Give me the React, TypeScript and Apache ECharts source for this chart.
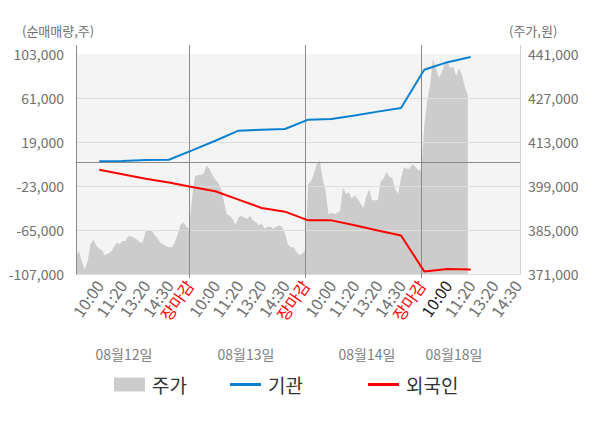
import React, { useEffect, useRef } from 'react';
import * as echarts from 'echarts';

// ---- data ----
const days = ['08/12', '08/13', '08/14', '08/18'];
const dayLabels = ['08월12일', '08월13일', '08월14일', '08월18일'];
const slotsPerDay = [40, 40, 40, 34];
const timeLabels: Record<number, string> = { 8: '10:00', 16: '11:20', 24: '13:20', 32: '14:30', 39: '장마감' };

const priceDay1 = [
  376500, 378500, 375000, 372500, 375000, 380500, 382000, 380000, 379000, 378500,
  377000, 377500, 378000, 379500, 381000, 380500, 381500, 381500, 383000, 383000,
  382500, 382000, 381000, 381000, 384500, 385000, 385000, 383500, 382500, 381000,
  380500, 380000, 379500, 379500, 381000, 383500, 386500, 387500, 386000, 385500,
];
const priceDay2 = [
  395500, 402000, 402500, 402500, 403000, 405500, 404500, 402500, 401000, 400000,
  398000, 394000, 390000, 389500, 388500, 386500, 389000, 389500, 389000, 388500,
  389500, 388000, 387500, 386500, 387000, 385500, 386000, 386000, 385500, 386000,
  386500, 386000, 384000, 380500, 379500, 379500, 378000, 377000, 377500, 378500,
];
const priceDay3 = [
  399500, 400500, 403000, 406000, 407000, 401500, 397500, 390000, 390500, 390000,
  390500, 391000, 398500, 396500, 397000, 395000, 396000, 395000, 393500, 392000,
  395500, 398000, 394500, 394500, 394500, 400500, 401500, 403500, 402000, 401500,
  398000, 396500, 401500, 405000, 404500, 404500, 406000, 405000, 404000, 404000,
];
const priceDay4 = [
  418000, 426000, 431000, 439500, 436500, 433500, 435000, 438000, 438500, 436500,
  437000, 434000, 436500, 434500, 430500, 428000,
];

// investor net buying, sampled at these time slots (global slot index)
const flowIndex = [8, 16, 24, 32, 40, 48, 56, 64, 72, 80, 88, 96, 104, 112, 120, 128, 136];
const institution = [700, 950, 1800, 2100, 11000, 20200, 29800, 30700, 31400, 40300, 40900, 44400, 48000, 51400, 88000, 95200, 100100];
const foreign = [-7450, -11700, -16000, -19600, -24000, -28000, -36000, -44000, -47500, -55800, -55800, -60500, -65500, -70200, -104500, -102200, -102600];

const leftAxis = { min: -107000, max: 103000, interval: 42000 };
const rightAxis = { min: 371000, max: 441000, interval: 14000 };

const FONT = '"Noto Sans CJK KR", "Noto Sans", sans-serif';

function buildOption() {
  const cats: string[] = [];
  days.forEach((d, i) => {
    for (let s = 0; s < slotsPerDay[i]; s++) cats.push(`${d} ${s}`);
  });
  const pad = slotsPerDay[3] - priceDay4.length;
  const price: (number | null)[] = [...priceDay1, ...priceDay2, ...priceDay3, ...priceDay4, ...Array(pad).fill(null)];
  const inst: (number | null)[] = cats.map(() => null);
  const forn: (number | null)[] = cats.map(() => null);
  flowIndex.forEach((ix, k) => {
    inst[ix] = institution[k];
    forn[ix] = foreign[k];
  });
  const separators: string[] = [];
  let acc = 0;
  for (let i = 0; i < days.length - 1; i++) {
    acc += slotsPerDay[i];
    separators.push(cats[acc - 1]);
  }
  const slotOf = (v: string) => Number(v.split(' ')[1]);
  const lastDay = days[days.length - 1];

  const dateCenters = [124, 246, 367, 454];
  const lineIcon = 'path://M0,0H31V3H0Z';
  const legendBase = {
    top: 375,
    padding: 0,
    itemWidth: 31,
    itemHeight: 14,
    itemGap: 0,
    selectedMode: false,
    textStyle: { fontSize: 19, color: '#333', fontFamily: FONT, padding: [0, 0, 0, 2] },
  };

  return {
    animation: false,
    textStyle: { fontFamily: FONT },
    grid: [
      { left: 76, right: 80, top: 54, bottom: 154, show: true, backgroundColor: '#f4f4f4', borderWidth: 0 },
      { left: 76, right: 80, top: 45, bottom: 150, show: false },
    ],
    legend: [
      { ...legendBase, left: 114, data: [{ name: '주가', icon: 'rect' }] },
      { ...legendBase, left: 230, data: [{ name: '기관', icon: lineIcon }] },
      { ...legendBase, left: 368, data: [{ name: '외국인', icon: lineIcon }] },
    ],
    xAxis: [
      {
        type: 'category',
        gridIndex: 0,
        data: cats,
        boundaryGap: false,
        z: 3,
        axisLine: { show: true, lineStyle: { color: '#999', width: 1 } },
        axisTick: { show: false },
        splitLine: { show: false },
        axisLabel: {
          interval: (_i: number, v: string) => timeLabels[slotOf(v)] !== undefined,
          formatter: (v: string) => {
            const s = slotOf(v);
            const t = timeLabels[s];
            if (!t) return '';
            if (s === 39) return `{r|${t}}`;
            if (v.startsWith(lastDay) && s === 8) return `{k|${t}}`;
            return t;
          },
          rotate: 55,
          margin: 8,
          fontSize: 16,
          color: '#707070',
          fontFamily: FONT,
          rich: {
            r: { color: '#ff0000', fontSize: 16, fontFamily: FONT },
            k: { color: '#222222', fontSize: 16, fontFamily: FONT },
          },
        },
      },
      { type: 'category', gridIndex: 1, data: cats, boundaryGap: false, show: false },
    ],
    yAxis: [
      {
        type: 'value',
        gridIndex: 0,
        position: 'left',
        ...leftAxis,
        z: 3,
        axisLine: { show: false },
        axisTick: { show: false },
        axisLabel: { color: '#707070', fontSize: 14, margin: 12, fontFamily: FONT, formatter: (v: number) => v.toLocaleString('en-US') },
        splitLine: { show: true, showMaxLine: false, lineStyle: { color: '#dddddd', width: 1 } },
      },
      {
        type: 'value',
        gridIndex: 0,
        position: 'right',
        ...rightAxis,
        z: 3,
        axisLine: { show: false },
        axisTick: { show: false },
        axisLabel: { color: '#707070', fontSize: 14, margin: 8, fontFamily: FONT, formatter: (v: number) => v.toLocaleString('en-US') },
        splitLine: { show: false },
      },
      { type: 'value', gridIndex: 1, min: 0, max: 1, show: false },
    ],
    series: [
      {
        name: '주가',
        type: 'line',
        xAxisIndex: 0,
        yAxisIndex: 1,
        data: price,
        symbol: 'none',
        showSymbol: false,
        itemStyle: { color: '#cccccc' },
        lineStyle: { width: 0, color: '#cccccc' },
        areaStyle: { color: '#cccccc', opacity: 1 },
        z: 2,
        silent: true,
      },
      {
        name: '기관',
        type: 'line',
        xAxisIndex: 0,
        yAxisIndex: 0,
        data: inst,
        connectNulls: true,
        symbol: 'none',
        showSymbol: false,
        itemStyle: { color: '#0a80d0' },
        lineStyle: { width: 2, color: '#0a80d0' },
        z: 5,
        silent: true,
        markLine: {
          silent: true,
          symbol: ['none', 'none'],
          label: { show: false },
          lineStyle: { color: '#8a8a8a', width: 1, type: 'solid' },
          emphasis: { disabled: true },
          data: [{ yAxis: 0 }],
        },
      },
      {
        name: '외국인',
        type: 'line',
        xAxisIndex: 0,
        yAxisIndex: 0,
        data: forn,
        connectNulls: true,
        symbol: 'none',
        showSymbol: false,
        itemStyle: { color: '#ff0000' },
        lineStyle: { width: 2, color: '#ff0000' },
        z: 5,
        silent: true,
      },
      {
        name: 'frame',
        type: 'line',
        xAxisIndex: 1,
        yAxisIndex: 2,
        data: [],
        silent: true,
        z: 6,
        markLine: {
          silent: true,
          symbol: ['none', 'none'],
          label: { show: false },
          emphasis: { disabled: true },
          lineStyle: { color: '#8a8a8a', width: 1, type: 'solid' },
          data: [
            ...separators.map((c) => ({ xAxis: c })),
            [{ coord: [cats[0], 1] }, { coord: [cats[0], 0.016] }],
            [
              { coord: [cats[cats.length - 1], 1], lineStyle: { color: '#cfcfcf' } },
              { coord: [cats[cats.length - 1], 0.016] },
            ],
          ],
        },
      },
    ],
    graphic: [
      { type: 'text', left: 22, top: 24, style: { text: '(순매매량,주)', fill: '#707070', font: `13px ${FONT}` } },
      { type: 'text', left: 509, top: 24, style: { text: '(주가,원)', fill: '#707070', font: `13px ${FONT}` } },
      ...dayLabels.map((t, i) => ({
        type: 'text',
        x: dateCenters[i],
        y: 354,
        style: { text: t, fill: '#808080', font: `14px ${FONT}`, textAlign: 'center', textVerticalAlign: 'middle', align: 'center', verticalAlign: 'middle' },
      })),
    ],
  };
}

export default function App() {
  const ref = useRef<HTMLDivElement>(null);
  useEffect(() => {
    if (!ref.current) return;
    const chart = echarts.init(ref.current, null, { renderer: 'svg' });
    chart.setOption(buildOption() as any);
    return () => chart.dispose();
  }, []);
  return <div ref={ref} style={{ position: 'fixed', left: 0, top: 0, width: 600, height: 428, background: '#ffffff' }} />;
}
